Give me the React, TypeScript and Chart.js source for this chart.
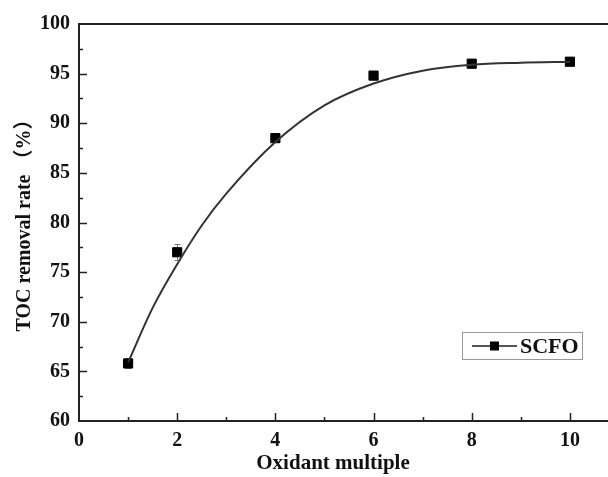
import React, { useEffect, useRef } from "react";
import { Chart, registerables } from "chart.js";

Chart.register(...registerables);

// Measured points
const oxidantMultiple = [1, 2, 4, 6, 8, 10];
const tocRemoval = [65.8, 77.0, 88.5, 94.8, 96.0, 96.2];
const tocError = [0.5, 0.8, 0.3, 0.3, 0.2, 0.2];

// Fitted curve
const fitX = [1, 1.5, 2, 2.5, 3, 4, 5, 6, 7, 8, 9, 10];
const fitY = [65.9, 71.4, 75.8, 79.7, 82.9, 88.1, 91.8, 94.0, 95.3, 95.9, 96.1, 96.2];

const xMajorTicks = [0, 2, 4, 6, 8, 10];
const yMajorTicks = [60, 65, 70, 75, 80, 85, 90, 95, 100];

const seriesLabel = "SCFO";
const xTitle = "Oxidant multiple";
const yTitle = "TOC removal rate （%）";

const FONT = "'Liberation Serif', 'Times New Roman', 'Noto Sans CJK SC', serif";

const decorPlugin = {
  id: "decor",
  beforeDatasetsDraw(chart: any) {
    const ctx = chart.ctx;
    const xs = chart.scales.x;
    const ys = chart.scales.y;
    ctx.save();
    ctx.strokeStyle = "#777";
    ctx.lineWidth = 1;
    oxidantMultiple.forEach((xv, i) => {
      const px = Math.round(xs.getPixelForValue(xv)) + 0.5;
      const yTop = Math.round(ys.getPixelForValue(tocRemoval[i] + tocError[i])) + 0.5;
      const yBot = Math.round(ys.getPixelForValue(tocRemoval[i] - tocError[i])) + 0.5;
      ctx.beginPath();
      ctx.moveTo(px, yTop);
      ctx.lineTo(px, yBot);
      ctx.moveTo(px - 3, yTop);
      ctx.lineTo(px + 3, yTop);
      ctx.moveTo(px - 3, yBot);
      ctx.lineTo(px + 3, yBot);
      ctx.stroke();
    });
    ctx.restore();
  },
  afterDraw(chart: any) {
    const ctx = chart.ctx;
    const xs = chart.scales.x;
    const ys = chart.scales.y;
    const { left, right, top, bottom } = chart.chartArea;
    ctx.save();
    ctx.strokeStyle = "#222";
    ctx.lineWidth = 2;
    ctx.beginPath();
    ctx.moveTo(left, top);
    ctx.lineTo(right, top);
    ctx.moveTo(left, top - 1);
    ctx.lineTo(left, bottom);
    ctx.lineTo(right, bottom);
    ctx.stroke();
    // ticks
    ctx.lineWidth = 1.5;
    ctx.beginPath();
    for (let v = xs.min; v <= xs.max + 1e-9; v += 1) {
      const px = Math.round(xs.getPixelForValue(v)) + 0.5;
      const len = xMajorTicks.includes(v) ? 8 : 4;
      if (v === xs.min) continue;
      ctx.moveTo(px, bottom);
      ctx.lineTo(px, bottom - len);
    }
    for (let v = ys.min; v <= ys.max + 1e-9; v += 2.5) {
      const py = Math.round(ys.getPixelForValue(v)) + 0.5;
      const len = yMajorTicks.includes(v) ? 8 : 4;
      if (v === ys.min || v === ys.max) continue;
      ctx.moveTo(left, py);
      ctx.lineTo(left + len, py);
    }
    ctx.stroke();

    // axis titles
    ctx.fillStyle = "#111";
    ctx.textAlign = "center";
    ctx.textBaseline = "middle";
    ctx.font = `bold 21px ${FONT}`;
    ctx.fillText(xTitle, 333, 464);
    ctx.font = `bold 20px ${FONT}`;
    ctx.save();
    ctx.translate(25, (top + bottom) / 2 - 2);
    ctx.rotate(-Math.PI / 2);
    ctx.fillText(yTitle, 0, 0);
    ctx.restore();

    // legend
    const bx = 462, by = 332, bw = 120, bh = 27;
    ctx.strokeStyle = "#999";
    ctx.lineWidth = 1;
    ctx.strokeRect(bx + 0.5, by + 0.5, bw, bh);
    const ly = by + bh / 2 + 0.5;
    ctx.strokeStyle = "#555";
    ctx.lineWidth = 2;
    ctx.beginPath();
    ctx.moveTo(bx + 10, ly);
    ctx.lineTo(bx + 55, ly);
    ctx.stroke();
    ctx.fillStyle = "#000";
    ctx.fillRect(bx + 28, ly - 4.5, 9, 9);
    ctx.font = `bold 22px ${FONT}`;
    ctx.textAlign = "left";
    ctx.fillStyle = "#111";
    ctx.fillText(seriesLabel, bx + 58, ly + 1);
    ctx.restore();
  },
};

export default function App() {
  const ref = useRef<HTMLCanvasElement | null>(null);
  useEffect(() => {
    if (!ref.current) return;
    const chart = new Chart(ref.current, {
      type: "scatter",
      data: {
        datasets: [
          {
            type: "line",
            label: "fit",
            data: fitX.map((x, i) => ({ x, y: fitY[i] })),
            borderColor: "#333",
            borderWidth: 2,
            pointRadius: 0,
            cubicInterpolationMode: "monotone",
            fill: false,
          } as any,
          {
            label: seriesLabel,
            data: oxidantMultiple.map((x, i) => ({ x, y: tocRemoval[i] })),
            pointStyle: "rect",
            pointRadius: 6.5,
            pointBackgroundColor: "#000",
            pointBorderColor: "#000",
            pointBorderWidth: 1,
            showLine: false,
          },
        ],
      },
      options: {
        animation: false,
        responsive: false,
        devicePixelRatio: 1,
        layout: { padding: { top: 24, right: 21, left: 0, bottom: 0 } },
        plugins: { legend: { display: false }, tooltip: { enabled: false } },
        scales: {
          x: {
            type: "linear",
            min: 0,
            max: 11,
            grid: { display: false, drawTicks: false },
            border: { display: false },
            ticks: {
              stepSize: 1,
              padding: 8,
              color: "#111",
              font: { family: FONT, size: 20, weight: "bold" },
              autoSkip: false,
              maxRotation: 0,
              callback: (v: any) => (xMajorTicks.includes(Number(v)) ? String(v) : ""),
            },
            afterFit: (s: any) => {
              s.height = 56;
            },
          },
          y: {
            min: 60,
            max: 100,
            grid: { display: false, drawTicks: false },
            border: { display: false },
            ticks: {
              stepSize: 5,
              padding: 9,
              color: "#111",
              font: { family: FONT, size: 20, weight: "bold" },
            },
            afterFit: (s: any) => {
              s.width = 79;
            },
          },
        },
      },
      plugins: [decorPlugin],
    });
    return () => chart.destroy();
  }, []);
  return (
    <div
      style={{
        position: "fixed",
        left: 0,
        top: 0,
        width: 608,
        height: 477,
        overflow: "hidden",
        background: "#fff",
      }}
    >
      <canvas ref={ref} width={640} height={477} style={{ width: 640, height: 477, display: "block" }} />
    </div>
  );
}
